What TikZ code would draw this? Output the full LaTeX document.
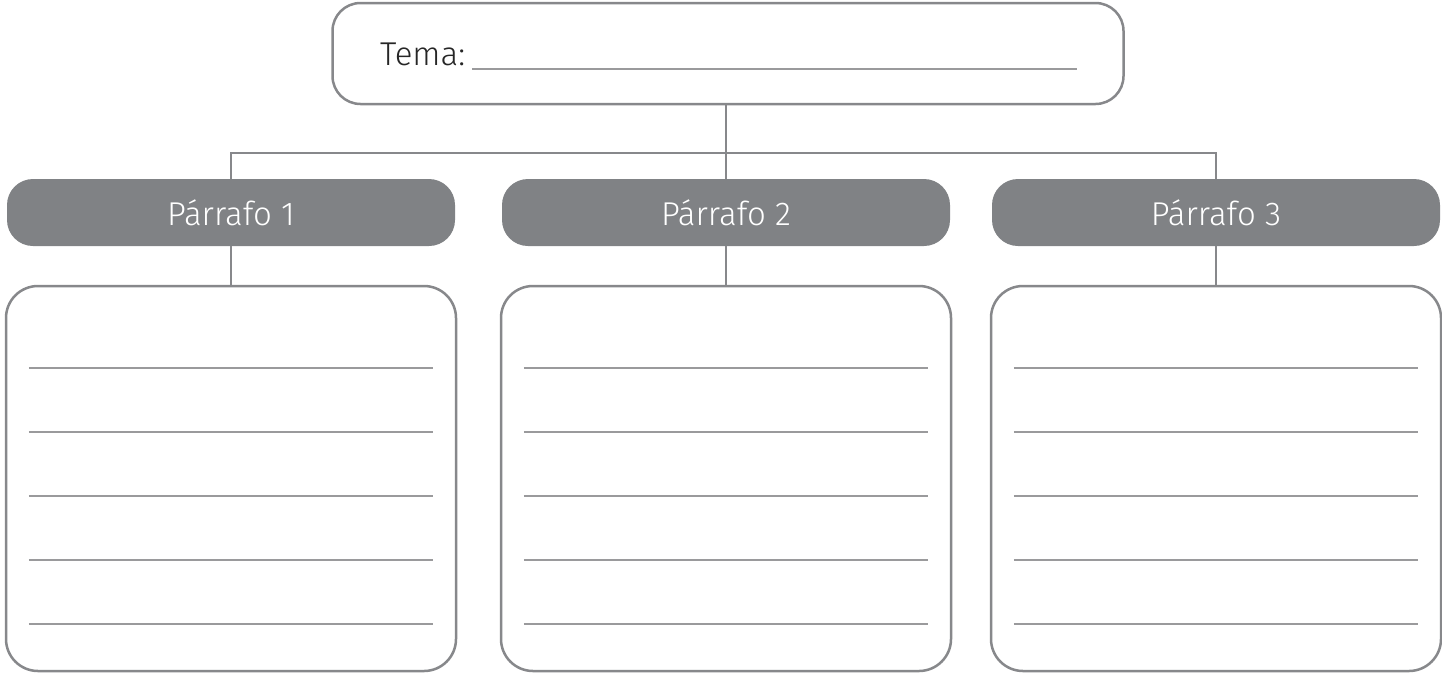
\documentclass[tikz,border=0pt]{standalone}
\usepackage{fontspec}
\setmainfont{Fira Sans Light}
\usepackage{tikz}
\definecolor{gristrait}{HTML}{87888B}
\definecolor{grisfond}{HTML}{808285}
\definecolor{grisligne}{HTML}{9A9A9C}

\begin{document}
\begin{tikzpicture}[x=1pt, y=-1pt]
	% STYLES
	\tikzstyle{cadre} = [draw=gristrait, line width=2.5pt, rounded corners=28pt, fill=white]
	\tikzstyle{titre} = [fill=grisfond, draw=none, rounded corners=26pt, text=white,
		minimum width=448pt, minimum height=67pt, font=\fontsize{33}{38}\selectfont]
	\tikzstyle{boite} = [cadre, rounded corners=32pt, minimum width=450pt, minimum height=385pt]
	\tikzstyle{lien} = [line width=2pt, draw=gristrait]
	\tikzstyle{ligne} = [line width=1.3pt, draw=grisligne]

	\useasboundingbox (0, 0) rectangle (1442, 673);

	% TEMA
	\node[cadre, minimum width=791pt, minimum height=101pt] (tema) at (728, 53.5) {};
	\node[anchor=base west, inner sep=0pt, font=\fontsize{33}{38}\selectfont, text=black!85] (nomtema) at (380, 65) {Tema:};
	\draw[ligne] (472, 69) -- (1077, 69);

	% PARRAFOS
	\node[titre] (p1) at (231, 212.5) {Párrafo 1};
	\node[titre] (p2) at (726, 212.5) {Párrafo 2};
	\node[titre] (p3) at (1216, 212.5) {Párrafo 3};

	% BOITES
	\node[boite] (b1) at (231, 478.5) {};
	\node[boite] (b2) at (726, 478.5) {};
	\node[boite] (b3) at (1216, 478.5) {};

	% LIENS
	\coordinate (noeud) at (p2.north |- 0, 153);
	\draw[lien] (noeud |- tema.south) -- (noeud) -| (p1.north);
	\draw[lien] (noeud) -| (p3.north);
	\draw[lien] (noeud) -- (p2.north);
	\foreach \i in {1, 2, 3}
		\draw[lien] (p\i.south) -- (b\i.north);

	% LIGNES
	\foreach \i in {1, 2, 3}
		\foreach \y in {368, 432, ..., 624}
			\draw[ligne] ([xshift=24pt]b\i.west |- 0, \y) -- ([xshift=-24pt]b\i.east |- 0, \y);

\end{tikzpicture}
\end{document}
